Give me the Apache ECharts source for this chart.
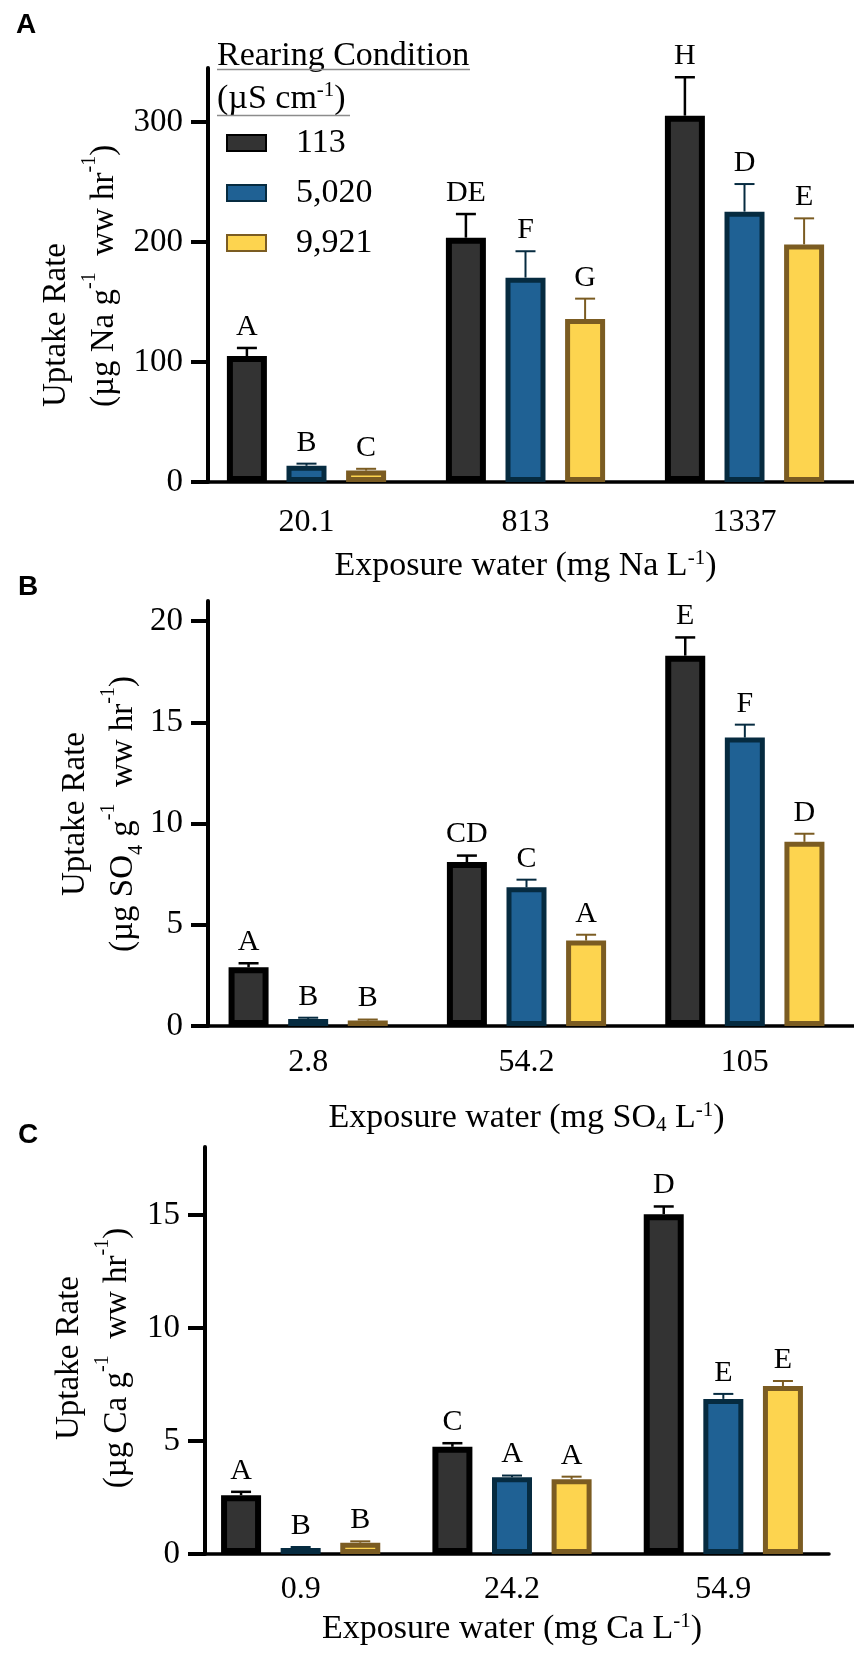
<!DOCTYPE html>
<html>
<head>
<meta charset="utf-8">
<script src="https://cdn.jsdelivr.net/npm/echarts@6.0.0/dist/echarts.min.js"></script>
<style>
  html, body { margin: 0; padding: 0; background: #fff; }
  #chart { width: 854px; height: 1654px; }
</style>
</head>
<body>
<div id="chart"></div>
<script>
// rearing condition (legend names)
const rearing = ['113', '5,020', '9,921'];

// panel A - Na
const naCategories = ['20.1', '813', '1337'];
const naMeans = [
  [105, 203.6, 305.3],   // 113
  [13.5, 170.3, 225.3],  // 5,020
  [9.5, 135.8, 198]      // 9,921
];
const naErrors = [
  [6.7, 19.7, 32],
  [1.8, 22, 23],
  [1.5, 17, 21.7]
];
const naLetters = [['A', 'DE', 'H'], ['B', 'F', 'D'], ['C', 'G', 'E']];
const naTicks = [0, 100, 200, 300];

// panel B - SO4
const so4Categories = ['2.8', '54.2', '105'];
const so4Means = [
  [2.9, 8.1, 18.3],
  [0.35, 6.85, 14.25],
  [0.27, 4.22, 9.1]
];
const so4Errors = [
  [0.2, 0.32, 0.9],
  [0.06, 0.38, 0.64],
  [0.05, 0.29, 0.4]
];
const so4Letters = [['A', 'CD', 'E'], ['B', 'C', 'F'], ['B', 'A', 'D']];
const so4Ticks = [0, 5, 10, 15, 20];

// panel C - Ca
const caCategories = ['0.9', '24.2', '54.9'];
const caMeans = [
  [2.6, 4.74, 15.03],
  [0.27, 3.39, 6.86],
  [0.5, 3.31, 7.43]
];
const caErrors = [
  [0.15, 0.16, 0.34],
  [0.04, 0.08, 0.22],
  [0.06, 0.11, 0.22]
];
const caLetters = [['A', 'C', 'D'], ['B', 'A', 'E'], ['B', 'A', 'E']];
const caTicks = [0, 5, 10, 15];

// styling
const FONT = 'Liberation Serif';
const fills = ['#333333', '#1f6194', '#fdd44f'];
const borders = ['#000000', '#062b40', '#7b5c22'];
const borderW = [6, 5, 5];
const errW = [2.5, 2, 2];
const BAR_W = 40;
const BAR_GAP = 0.49;
const BAR_STEP = BAR_W * (1 + BAR_GAP);
const CAP = 10;

const chart = echarts.init(document.getElementById('chart'));

// x axis titles
const rich = {
  n: { fontFamily: FONT, fontSize: 34, color: '#000', lineHeight: 36 },
  sup: { fontFamily: FONT, fontSize: 21, color: '#000', verticalAlign: 'top', lineHeight: 36 },
  sub: { fontFamily: FONT, fontSize: 21, color: '#000', verticalAlign: 'bottom', lineHeight: 30 }
};
// y axis titles
const richY = {
  n: { fontFamily: FONT, fontSize: 33, color: '#000', lineHeight: 48 },
  sup: { fontFamily: FONT, fontSize: 20, color: '#000', verticalAlign: 'top', lineHeight: 40 },
  sub: { fontFamily: FONT, fontSize: 20, color: '#000', verticalAlign: 'bottom', lineHeight: 36 }
};

const panels = [
  { cats: naCategories, means: naMeans, errs: naErrors, letters: naLetters, ticks: naTicks, max: 345,
    grid: { left: 197, top: 68, width: 660, height: 414 }, yOffset: -11, labelMargin: 25, nameGap: 66,
    xName: '{n|Exposure water (mg Na L}{sup|-1}{n|)}' },
  { cats: so4Categories, means: so4Means, errs: so4Errors, letters: so4Letters, ticks: so4Ticks, max: 21,
    grid: { left: 199, top: 601, width: 657, height: 425 }, yOffset: -9, labelMargin: 21, nameGap: 74,
    xName: '{n|Exposure water (mg SO}{sub|4}{n| L}{sup|-1}{n|)}' },
  { cats: caCategories, means: caMeans, errs: caErrors, letters: caLetters, ticks: caTicks, max: 18,
    grid: { left: 195, top: 1147, width: 634, height: 407 }, yOffset: -10, labelMargin: 20, nameGap: 57,
    xName: '{n|Exposure water (mg Ca L}{sup|-1}{n|)}' }
];

const grids = [], xAxes = [], yAxes = [], series = [];

panels.forEach((p, g) => {
  grids.push(p.grid);
  xAxes.push({
    type: 'category', gridIndex: g, data: p.cats,
    axisLine: { lineStyle: { color: '#000', width: 3.5 } },
    axisTick: { alignWithLabel: true, length: 18, lineStyle: { color: '#000', width: 3.5 } },
    axisLabel: { fontFamily: FONT, fontSize: 32, color: '#000', margin: p.labelMargin },
    name: p.xName, nameLocation: 'middle', nameGap: p.nameGap,
    nameTextStyle: { rich: rich }
  });
  yAxes.push({
    type: 'value', gridIndex: g, min: 0, max: p.max, offset: p.yOffset,
    splitLine: { show: false },
    axisLine: { show: true, lineStyle: { color: '#000', width: 4 } },
    axisTick: { show: true, length: 17, customValues: p.ticks, lineStyle: { color: '#000', width: 4 } },
    axisLabel: { fontFamily: FONT, fontSize: 33, color: '#000', margin: 25, customValues: p.ticks }
  });

  rearing.forEach((name, s) => {
    series.push({
      type: 'bar', name: name, xAxisIndex: g, yAxisIndex: g,
      data: p.means[s], barWidth: BAR_W, barGap: (BAR_GAP * 100) + '%',
      itemStyle: { color: fills[s], borderColor: borders[s], borderWidth: borderW[s] },
      emphasis: { disabled: true }, z: 2
    });
    // error bar (mean + SE) with significance letter
    series.push({
      type: 'custom', xAxisIndex: g, yAxisIndex: g, z: 3,
      data: p.means[s].map((m, i) => [i, m, m + p.errs[s][i]]),
      renderItem: function (params, api) {
        const base = api.coord([api.value(0), api.value(1)]);
        const top = api.coord([api.value(0), api.value(2)]);
        const x = base[0] + (s - 1) * BAR_STEP;
        const st = { stroke: borders[s], lineWidth: errW[s] };
        return {
          type: 'group',
          children: [
            { type: 'line', shape: { x1: x, y1: base[1], x2: x, y2: top[1] }, style: st },
            { type: 'line', shape: { x1: x - CAP, y1: top[1], x2: x + CAP, y2: top[1] }, style: st },
            { type: 'text', x: x, y: top[1] - 6,
              style: { text: p.letters[s][params.dataIndex], fontFamily: FONT, fontSize: 30,
                       fill: '#000', align: 'center', verticalAlign: 'bottom' } }
          ]
        };
      }
    });
  });
});

const yTitle = function (unit, x, y, align) {
  return {
    type: 'text', x: x, y: y, rotation: Math.PI / 2,
    style: { text: '{n|Uptake Rate}\n' + unit, rich: richY, align: align, verticalAlign: 'middle' }
  };
};
const panelLetter = function (t, x, y) {
  return { type: 'text', x: x, y: y,
    style: { text: t, fontFamily: 'Liberation Sans', fontWeight: 'bold', fontSize: 28, fill: '#000',
             align: 'center', verticalAlign: 'middle' } };
};

chart.setOption({
  backgroundColor: '#ffffff',
  animation: false,
  grid: grids,
  xAxis: xAxes,
  yAxis: yAxes,
  series: series,
  legend: {
    data: rearing, orient: 'vertical', left: 226, top: 126, itemGap: 16, padding: 0,
    itemWidth: 39, itemHeight: 16, icon: 'rect', selectedMode: false,
    textStyle: { fontFamily: FONT, fontSize: 34, color: '#000', lineHeight: 24, padding: [0, 0, 0, 25] }
  },
  graphic: [
    panelLetter('A', 26, 25),
    panelLetter('B', 28, 587),
    panelLetter('C', 28, 1135),
    yTitle('{n|(µg Na g}{sup|-1}{n|  ww hr}{sup|-1}{n|)}', 80, 407, 'left'),
    yTitle('{n|(µg SO}{sub|4}{n| g}{sup|-1}{n|  ww hr}{sup|-1}{n|)}', 99, 814, 'center'),
    yTitle('{n|(µg Ca g}{sup|-1}{n|  ww hr}{sup|-1}{n|)}', 93, 1358, 'center'),
    { type: 'text', x: 217, y: 56,
      style: { text: 'Rearing Condition', fontFamily: FONT, fontSize: 34, fill: '#000', align: 'left', verticalAlign: 'middle' } },
    { type: 'line', shape: { x1: 217, y1: 69.5, x2: 470, y2: 69.5 }, style: { stroke: '#8c8c8c', lineWidth: 1.5 } },
    { type: 'text', x: 217, y: 99,
      style: { text: '{n|(µS cm}{sup|-1}{n|)}', rich: { n: { fontFamily: FONT, fontSize: 34, color: '#000', lineHeight: 38 },
               sup: { fontFamily: FONT, fontSize: 21, color: '#000', verticalAlign: 'top', lineHeight: 38 } },
               align: 'left', verticalAlign: 'middle' } },
    { type: 'line', shape: { x1: 217, y1: 115.5, x2: 350, y2: 115.5 }, style: { stroke: '#8c8c8c', lineWidth: 1.5 } }
  ]
});
</script>
</body>
</html>
